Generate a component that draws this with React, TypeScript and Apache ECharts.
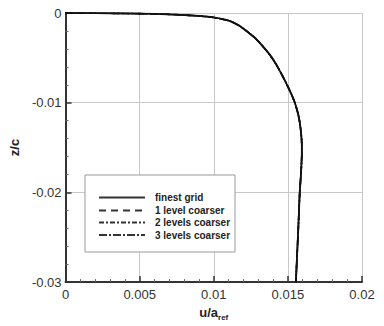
import React, { useEffect, useRef } from "react";
import * as echarts from "echarts";

// Velocity profile (finest grid); coarser grids overlap it visually
const zValues = [0, -0.00002, -0.00005, -0.0001, -0.0002, -0.00033, -0.0005, -0.0009, -0.0014, -0.002, -0.0028, -0.0037, -0.0047, -0.0057, -0.0069, -0.0082, -0.0091, -0.01, -0.0107, -0.0114, -0.0122, -0.0131, -0.014, -0.0148, -0.0157, -0.0167, -0.018, -0.02, -0.022, -0.0241, -0.027, -0.03];
const uFinest = [0, 0.002, 0.004, 0.006, 0.0077, 0.009, 0.01, 0.0111, 0.0117, 0.0122, 0.0128, 0.0133, 0.0138, 0.0142, 0.0146, 0.015, 0.01525, 0.01547, 0.0156, 0.01571, 0.0158, 0.01587, 0.01592, 0.01594, 0.01594, 0.01592, 0.01588, 0.0158, 0.01575, 0.0157, 0.01562, 0.01554];
const u1Coarser = [0, 0.002, 0.004, 0.006, 0.0077, 0.009, 0.01, 0.0111, 0.0117, 0.0122, 0.0128, 0.0133, 0.0138, 0.0142, 0.0146, 0.015, 0.01525, 0.01547, 0.0156, 0.01571, 0.0158, 0.01587, 0.01592, 0.01594, 0.01594, 0.01592, 0.01588, 0.0158, 0.01575, 0.0157, 0.01562, 0.01554];
const u2Coarser = [0, 0.002, 0.004, 0.006, 0.0077, 0.009, 0.01, 0.0111, 0.0117, 0.0122, 0.0128, 0.0133, 0.0138, 0.0142, 0.0146, 0.015, 0.01525, 0.01547, 0.0156, 0.01571, 0.0158, 0.01587, 0.01592, 0.01594, 0.01594, 0.01592, 0.01588, 0.0158, 0.01575, 0.0157, 0.01562, 0.01554];
const u3Coarser = [0, 0.002, 0.004, 0.006, 0.0077, 0.009, 0.01, 0.0111, 0.0117, 0.0122, 0.0128, 0.0133, 0.0138, 0.0142, 0.0146, 0.015, 0.01525, 0.01547, 0.0156, 0.01571, 0.0158, 0.01587, 0.01592, 0.01594, 0.01594, 0.01592, 0.01588, 0.0158, 0.01575, 0.0157, 0.01562, 0.01554];

const legendLabels = ["finest grid", "1 level coarser", "2 levels coarser", "3 levels coarser"];
const legendDashes: (number[] | null)[] = [null, [7, 5], [5, 2, 2, 2], [8, 2, 2, 2]];

const xTicks = { min: 0, max: 0.02, interval: 0.005 };
const yTicks = { min: -0.03, max: 0, interval: 0.01 };

const FONT = "'Liberation Sans', Arial, Helvetica, sans-serif";

function pairs(u: number[], z: number[]) {
  return u.map((v, i) => [v, z[i]]);
}

export default function App() {
  const ref = useRef<HTMLDivElement>(null);
  useEffect(() => {
    document.body.style.margin = "0";
    const chart = echarts.init(ref.current!, null, { renderer: "svg" });

    const lx = 85, ly = 175, lw = 150, lh = 77;
    const rows = [197.5, 210.5, 222.5, 235];
    const legendEls: any[] = [
      {
        type: "rect",
        shape: { x: lx, y: ly, width: lw, height: lh },
        style: { fill: "#fff", stroke: "#999", lineWidth: 1 },
        z: 10,
      },
    ];
    legendLabels.forEach((t, i) => {
      legendEls.push({
        type: "line",
        shape: { x1: 99, y1: rows[i], x2: 145, y2: rows[i] },
        style: { stroke: "#333", lineWidth: 2, lineDash: legendDashes[i] || undefined },
        z: 11,
      });
      legendEls.push({
        type: "text",
        x: 155,
        y: rows[i],
        style: {
          text: t,
          fill: "#222",
          font: `bold 10px ${FONT}`,
          verticalAlign: "middle",
        },
        z: 11,
      });
    });

    const axisCommon = {
      axisLine: { show: true, onZero: false, lineStyle: { color: "#333", width: 2 } },
      axisTick: { show: true, inside: true, length: 6, lineStyle: { color: "#333", width: 1.5 } },
      minorTick: { show: true, splitNumber: 5, length: 3, lineStyle: { color: "#666", width: 1 } },
      splitLine: { show: true, lineStyle: { color: "#c8c8c8", width: 1 } },
      axisLabel: { color: "#333", fontSize: 13, fontFamily: FONT },
    };

    const lineSeries = (u: number[], dash: any, width: number) => ({
      type: "line",
      data: pairs(u, zValues),
      showSymbol: false,
      smooth: 0.2,
      lineStyle: { color: "#111", width, type: dash },
    });

    chart.setOption({
      animation: false,
      backgroundColor: "#fff",
      grid: { left: 65, right: 22, top: 13, bottom: 42.5, containLabel: false },
      xAxis: {
        type: "value",
        ...xTicks,
        ...axisCommon,
        axisLabel: { ...axisCommon.axisLabel, margin: 6 },
        name: "{a|u/a}{b|ref}",
        nameLocation: "middle",
        nameGap: 19,
        nameTextStyle: {
          rich: {
            a: { fontSize: 13, fontWeight: "bold", color: "#222", fontFamily: FONT },
            b: { fontSize: 8, fontWeight: "bold", color: "#222", fontFamily: FONT, padding: [9, 0, 0, 0] },
          },
        },
      },
      yAxis: {
        type: "value",
        ...yTicks,
        ...axisCommon,
        axisLabel: { ...axisCommon.axisLabel, margin: 4 },
        name: "z/c",
        nameLocation: "middle",
        nameGap: 42,
        nameRotate: 90,
        nameTextStyle: { fontSize: 13, fontWeight: "bold", color: "#222", fontFamily: FONT },
      },
      graphic: legendEls,
      series: [
        lineSeries(u3Coarser, [8, 2, 2, 2], 1.6),
        lineSeries(u2Coarser, [5, 2, 2, 2], 1.6),
        lineSeries(u1Coarser, [7, 5], 1.6),
        lineSeries(uFinest, "solid", 1.8),
      ],
    });
    return () => chart.dispose();
  }, []);
  return <div ref={ref} style={{ width: 384, height: 326 }} />;
}
